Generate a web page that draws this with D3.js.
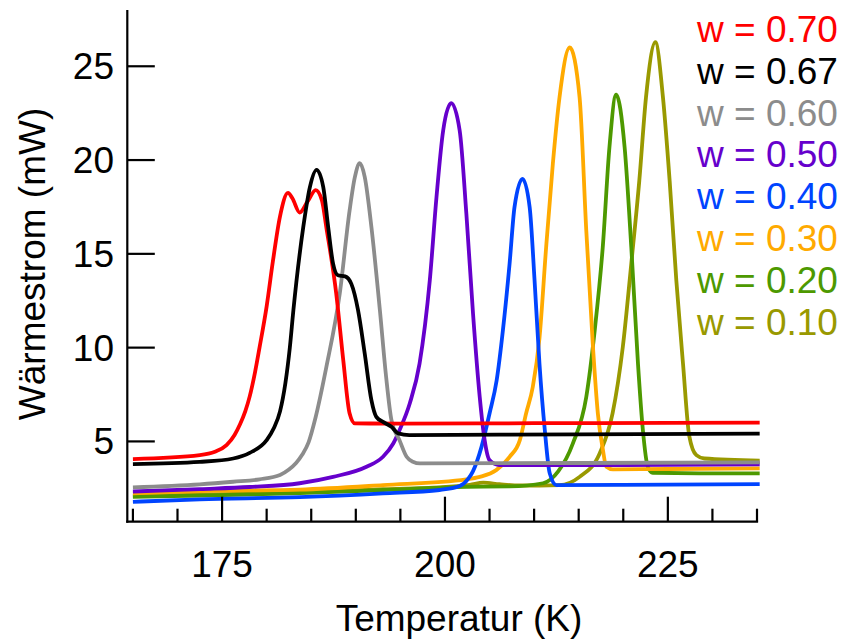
<!DOCTYPE html>
<html>
<head>
<meta charset="utf-8">
<script src="https://cdn.jsdelivr.net/npm/d3@7"></script>
<style>
  html, body { margin: 0; padding: 0; background: #fff; }
  svg { display: block; }
  text { font-family: "Liberation Sans", Arial, sans-serif; }
</style>
</head>
<body>
<svg id="chart" width="842" height="642"></svg>
<script>
// DSC heating traces: heat flow (mW) vs. temperature (K), one trace per mass fraction w
const w070 = [[165.0,4.06],[172.5,4.27],[174.2,4.45],[175.5,4.8],[176.4,5.34],[177.0,5.9],[177.6,6.6],[178.1,7.4],[178.7,8.7],[179.2,10.0],[180.0,12.2],[180.7,14.6],[181.5,17.0],[182.4,18.25],[182.9,17.95],[183.7,17.2],[184.6,17.8],[185.5,18.4],[186.2,17.85],[186.7,16.4],[187.8,12.9],[188.6,9.3],[189.3,6.5],[189.9,5.96],[195.0,5.95],[210.0,5.97],[225.0,5.99],[235.3,6.0]];
const w067 = [[165.0,3.79],[172.5,3.91],[176.25,4.09],[178.1,4.39],[180.0,5.07],[180.8,5.7],[181.5,6.6],[182.1,8.1],[182.6,10.0],[183.0,12.0],[184.1,16.4],[184.85,18.56],[185.6,19.48],[186.35,18.56],[186.9,16.43],[187.45,14.48],[188.0,13.86],[188.8,13.8],[189.5,13.4],[190.25,12.0],[191.0,9.69],[191.75,7.2],[192.3,6.31],[193.05,6.04],[194.0,5.78],[194.75,5.43],[196.0,5.34],[215.0,5.38],[235.3,5.42]];
const w060 = [[165.0,2.55],[172.5,2.71],[176.25,2.85],[179.2,2.98],[181.5,3.21],[182.5,3.5],[183.3,3.85],[184.0,4.3],[184.7,4.95],[185.5,6.3],[186.7,8.97],[188.2,12.88],[189.3,17.3],[189.9,19.1],[190.45,19.83],[191.0,19.1],[191.75,16.43],[192.7,12.0],[193.4,8.44],[194.0,6.13],[194.9,5.07],[195.7,4.18],[196.4,3.92],[197.2,3.83],[215.0,3.85],[235.3,3.88]];
const w050 = [[165.0,2.33],[172.5,2.46],[178.1,2.57],[183.7,2.77],[187.45,3.11],[191.2,3.65],[193.05,4.18],[194.2,4.89],[194.9,5.6],[196.05,7.02],[197.15,9.15],[198.3,13.59],[199.05,18.02],[199.8,21.58],[200.7,23.03],[201.65,21.58],[202.4,17.14],[203.15,11.8],[203.9,7.37],[204.45,5.07],[205.0,4.0],[206.1,3.74],[220.0,3.74],[235.3,3.78]];
const w040 = [[165.0,1.78],[172.5,1.91],[183.7,2.03],[193.05,2.23],[199.4,2.41],[201.65,2.62],[202.6,3.0],[203.15,3.42],[204.1,4.71],[205.0,6.49],[205.8,8.26],[206.5,10.93],[207.25,14.48],[207.8,17.49],[208.7,19.0],[209.5,17.49],[210.05,13.59],[210.6,9.15],[211.2,5.6],[211.75,3.3],[212.5,2.67],[220.0,2.68],[235.3,2.72]];
const w030 = [[165.0,2.23],[172.5,2.35],[183.7,2.43],[193.05,2.67],[202.4,2.98],[203.9,3.11],[205.75,3.47],[207.25,4.18],[208.4,5.07],[209.1,6.49],[209.85,7.9],[210.6,10.5],[211.35,15.36],[212.1,19.8],[212.85,23.35],[214.0,26.0],[215.1,23.35],[215.85,16.25],[216.6,10.04],[217.15,6.49],[217.7,4.6],[218.1,3.65],[218.85,3.51],[225.0,3.53],[235.3,3.56]];
const w020 = [[165.0,2.05],[172.5,2.11],[183.7,2.24],[193.05,2.41],[202.4,2.58],[207.25,2.6],[211.0,2.77],[212.7,3.4],[214.35,4.9],[215.85,7.37],[216.8,10.93],[217.7,15.36],[218.45,20.69],[219.2,23.49],[220.15,20.69],[220.9,15.36],[221.65,9.15],[222.2,5.6],[222.75,3.65],[223.3,3.33],[230.0,3.3],[235.3,3.3]];
const w010 = [[165.0,2.1],[172.5,2.16],[183.7,2.28],[193.05,2.45],[199.4,2.55],[202.8,2.68],[204.3,2.8],[206.1,2.72],[208.4,2.65],[210.6,2.65],[212.85,2.67],[215.1,3.11],[217.35,4.36],[218.8,6.49],[219.95,10.04],[220.9,14.48],[221.8,18.91],[222.55,23.35],[223.6,26.28],[224.45,23.35],[225.2,18.91],[225.95,13.59],[226.7,9.15],[227.4,5.3],[228.2,4.27],[229.1,4.09],[235.3,3.97]];

const seriesData   = [w070, w067, w060, w050, w040, w030, w020, w010];
const seriesLabels = ["w = 0.70", "w = 0.67", "w = 0.60", "w = 0.50", "w = 0.40", "w = 0.30", "w = 0.20", "w = 0.10"];
const palette      = ["#ff0000", "#000000", "#8c8c8c", "#6600cc", "#0044ff", "#ffaa00", "#4d9900", "#999900"];
// stacking order of the traces (index into seriesData), last one on top
const drawOrder    = [7, 6, 5, 4, 3, 2, 0, 1];

const xMajorTicks = [175, 200, 225];
const xMinorTicks = d3.range(165, 236, 5);
const yTicks      = [5, 10, 15, 20, 25];

const svg = d3.select("#chart");
const FONT = 37;

const x = d3.scaleLinear().domain([164.37, 235]).range([127.3, 757]);
const y = d3.scaleLinear().domain([0.72, 28]).range([521.7, 10]);

const plot = svg.append("g");

// traces
const line = d3.line()
  .x(d => x(d[0]))
  .y(d => y(d[1]))
  .curve(d3.curveMonotoneX);

drawOrder.forEach(i => {
  plot.append("path")
    .datum(seriesData[i])
    .attr("fill", "none")
    .attr("stroke", palette[i])
    .attr("stroke-width", 3.8)
    .attr("stroke-linejoin", "round")
    .attr("d", line);
});

// axes frame
const axisG = svg.append("g").attr("stroke", "#000").attr("stroke-width", 2.2);
axisG.append("line")
  .attr("x1", x.range()[0]).attr("x2", x.range()[0])
  .attr("y1", y.range()[1]).attr("y2", y.range()[0] + 1.1);
axisG.append("line")
  .attr("x1", x.range()[0] - 1.1).attr("x2", x.range()[1] + 1.1)
  .attr("y1", y.range()[0]).attr("y2", y.range()[0]);

// x ticks point inward (up); majors longer
xMinorTicks.forEach(t => {
  const major = xMajorTicks.includes(t);
  axisG.append("line")
    .attr("x1", x(t)).attr("x2", x(t))
    .attr("y1", y.range()[0]).attr("y2", y.range()[0] - (major ? 25 : 13));
});

// y ticks point inward (right)
yTicks.forEach(t => {
  axisG.append("line")
    .attr("x1", x.range()[0]).attr("x2", x.range()[0] + 27.5)
    .attr("y1", y(t)).attr("y2", y(t));
});

// tick labels
svg.append("g").selectAll("text")
  .data(xMajorTicks).join("text")
  .attr("x", d => x(d))
  .attr("y", 577)
  .attr("text-anchor", "middle")
  .attr("font-size", FONT)
  .attr("fill", "#000")
  .text(d => d);

svg.append("g").selectAll("text")
  .data(yTicks).join("text")
  .attr("x", 114)
  .attr("y", d => y(d))
  .attr("dy", "0.35em")
  .attr("text-anchor", "end")
  .attr("font-size", FONT)
  .attr("fill", "#000")
  .text(d => d);

// axis titles
svg.append("text")
  .attr("x", 459).attr("y", 631)
  .attr("text-anchor", "middle")
  .attr("font-size", FONT)
  .text("Temperatur (K)");

svg.append("text")
  .attr("transform", "translate(45,264) rotate(-90)")
  .attr("text-anchor", "middle")
  .attr("font-size", FONT)
  .text("Wärmestrom (mW)");

// legend
svg.append("g").selectAll("text")
  .data(seriesLabels).join("text")
  .attr("x", 697)
  .attr("y", (d, i) => 41.7 + i * 41.9)
  .attr("font-size", FONT)
  .attr("fill", (d, i) => palette[i])
  .text(d => d);
</script>
</body>
</html>
